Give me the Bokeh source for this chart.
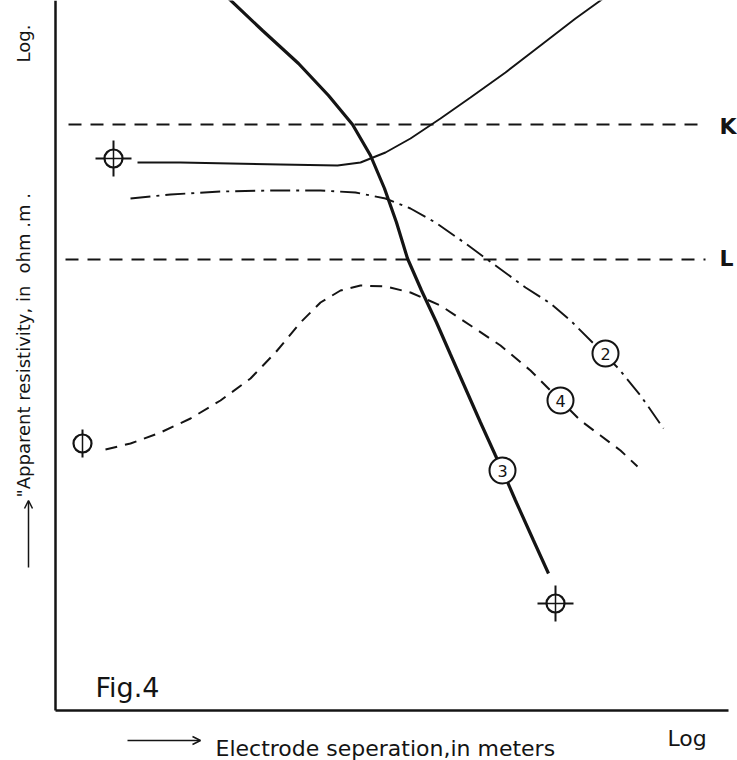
import numpy as np
from bokeh.plotting import figure
from bokeh.models import Range1d, Label, Arrow, OpenHead, FixedTicker
from bokeh.core.properties import value
from bokeh.embed import file_html
from bokeh.resources import INLINE

FONT = "DejaVu Sans"
INK = "#141414"

# curve 1 (solid, thin) - flat then rising
c1_x = [82, 125, 175, 225, 282, 305, 330, 355, 385, 415, 450, 485, 520, 545, 557]
c1_y = [548, 548, 547, 546, 545, 548, 558, 572, 592, 613, 638, 665, 692, 710, 719]

# curve 2 (dash-dot)
c2_x = [75, 115, 165, 215, 265, 300, 330, 355, 380, 410, 440, 470, 495, 515, 538, 563, 585, 608]
c2_y = [512, 516, 519, 520, 520, 518, 512, 502, 488, 467, 445, 423, 407, 390, 367, 342, 315, 282]

# curve 3 (thick solid) - falling steeply
c3_x = [169, 207, 243, 273, 297, 315, 329, 341, 352, 366, 381, 395, 410, 425, 440, 447, 460, 478, 493]
c3_y = [716, 680, 647, 615, 586, 555, 522, 488, 452, 420, 388, 356, 322, 288, 255, 240, 210, 170, 137]

# curve 4 (dashed) - hump
c4_x = [50, 75, 105, 135, 165, 195, 220, 245, 265, 285, 305, 330, 355, 385, 415, 445, 475, 505, 525, 545, 565, 582]
c4_y = [261, 267, 278, 292, 310, 332, 358, 388, 408, 420, 425, 424, 418, 405, 385, 365, 340, 310, 290, 275, 260, 244]

# horizontal reference levels K and L
k_level = 586
l_level = 451
k_x = [13, 650]
l_x = [10, 650]

# curve tags
tag_text = ["2", "4", "3"]
tag_x = [550, 505, 447]
tag_y = [357, 310, 240]

# observation markers
m_cross_x = [58, 500]
m_cross_y = [552, 107]
m_bar_x = [27]
m_bar_y = [267]

p = figure(width=737, height=760, x_range=Range1d(-55, 682), y_range=Range1d(-50, 710),
           output_backend="svg", toolbar_location=None,
           min_border_left=0, min_border_right=0, min_border_top=0, min_border_bottom=0)
p.outline_line_color = None
p.xgrid.visible = False
p.ygrid.visible = False
p.background_fill_color = "white"
p.border_fill_color = "white"
for ax in (p.xaxis[0], p.yaxis[0]):
    ax.ticker = FixedTicker(ticks=[])
    ax.major_tick_in = 0
    ax.major_tick_out = 0
    ax.minor_tick_in = 0
    ax.minor_tick_out = 0
    ax.major_label_standoff = 0
    ax.axis_line_width = 2.5
    ax.axis_line_color = INK
    ax.fixed_location = 0
p.xaxis[0].bounds = (0, 673)
p.yaxis[0].bounds = (0, 710)

# dashed levels
p.line(k_x, [k_level, k_level], line_color=INK, line_width=2, line_dash="13 9")
p.line(l_x, [l_level, l_level], line_color=INK, line_width=2, line_dash="13 9")

p.line(c1_x, c1_y, line_color=INK, line_width=1.9)
p.line(c2_x, c2_y, line_color=INK, line_width=1.9, line_dash="20 6 3 6")
p.line(c4_x, c4_y, line_color=INK, line_width=2, line_dash="12 8")
p.line(c3_x, c3_y, line_color=INK, line_width=3.2)

# tags
p.scatter(tag_x, tag_y, marker="circle", size=26, fill_color="white", line_color=INK, line_width=2)
p.text(tag_x, tag_y, text=tag_text, text_align="center", text_baseline="middle",
       text_font=value(FONT), text_font_size="16px", text_color=INK)

# markers
p.scatter(m_cross_x, m_cross_y, marker="cross", size=36, line_color=INK, line_width=2)
p.scatter(m_cross_x, m_cross_y, marker="circle", size=18, fill_color="white", line_color=INK, line_width=2.2)
p.scatter(m_cross_x, m_cross_y, marker="cross", size=18, line_color=INK, line_width=1.5)
p.scatter(m_bar_x, m_bar_y, marker="dash", angle=np.pi / 2, size=28, line_color=INK, line_width=2)
p.scatter(m_bar_x, m_bar_y, marker="circle", size=18, fill_color="white", line_color=INK, line_width=2.2)
p.scatter(m_bar_x, m_bar_y, marker="dash", angle=np.pi / 2, size=18, line_color=INK, line_width=1.5)

def lab(x, y, t, size, angle=0.0, style="normal"):
    p.add_layout(Label(x=x, y=y, text=t, text_font=FONT, text_font_size=size, text_color=INK,
                       angle=angle, text_align="left", text_baseline="alphabetic",
                       text_font_style=style))

lab(664, 584, "K", "22px", style="bold")
lab(664, 452, "L", "22px", style="bold")
lab(40, 23, "Fig.4", "27px")
lab(160, -38, "Electrode seperation,in meters", "22px")
lab(612, -28, "Log", "22px")
lab(-32, 213, "\"Apparent resistivity, in", "18px", np.pi / 2)
lab(-32, 437, "ohm .m .", "18px", np.pi / 2)
lab(-32, 648, "Log.", "18px", np.pi / 2)

p.add_layout(Arrow(end=OpenHead(size=8, line_width=1.5, line_color=INK), x_start=72, y_start=-30,
                   x_end=145, y_end=-30, line_width=1.5, line_color=INK))
p.add_layout(Arrow(end=OpenHead(size=8, line_width=1.5, line_color=INK), x_start=-27, y_start=143,
                   x_end=-27, y_end=210, line_width=1.5, line_color=INK))

open("out.html", "w").write(file_html(p, INLINE))
